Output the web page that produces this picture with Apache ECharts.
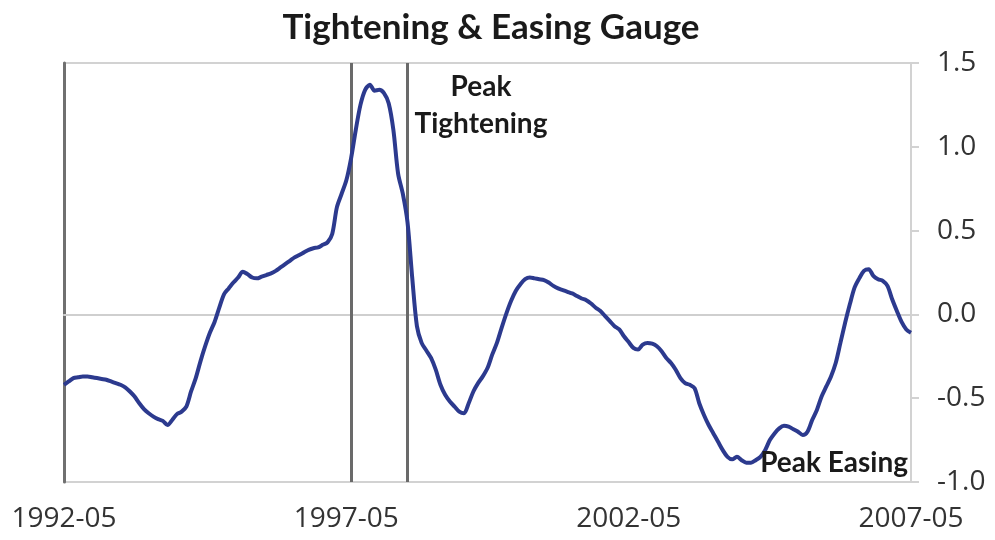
<!DOCTYPE html>
<html><head><meta charset="utf-8">
<script src="https://cdn.jsdelivr.net/npm/echarts@6/dist/echarts.min.js"></script>
<style>html,body{margin:0;padding:0;background:#fff}#c{width:995px;height:540px}</style>
</head><body><div id="c"></div>
<script>
// Monthly gauge values, each array runs May of the named year to April of the next
const gauge1992 = [-0.42,-0.40,-0.38,-0.375,-0.37,-0.37,-0.375,-0.38,-0.385,-0.39,-0.40,-0.41];
const gauge1993 = [-0.42,-0.435,-0.46,-0.49,-0.53,-0.565,-0.59,-0.61,-0.625,-0.635,-0.66,-0.63];
const gauge1994 = [-0.595,-0.58,-0.55,-0.46,-0.38,-0.28,-0.19,-0.11,-0.045,0.04,0.12,0.155];
const gauge1995 = [0.19,0.22,0.255,0.24,0.22,0.215,0.225,0.235,0.245,0.26,0.28,0.30];
const gauge1996 = [0.32,0.34,0.355,0.37,0.385,0.395,0.40,0.415,0.43,0.48,0.64,0.72];
const gauge1997 = [0.80,0.93,1.10,1.25,1.34,1.37,1.335,1.34,1.32,1.26,1.10,0.84];
const gauge1998 = [0.72,0.55,0.22,-0.07,-0.17,-0.215,-0.26,-0.33,-0.42,-0.48,-0.52,-0.55];
const gauge1999 = [-0.58,-0.59,-0.53,-0.46,-0.41,-0.37,-0.32,-0.24,-0.17,-0.08,0.005,0.08];
const gauge2000 = [0.14,0.18,0.21,0.22,0.215,0.21,0.205,0.19,0.17,0.155,0.145,0.135];
const gauge2001 = [0.125,0.11,0.095,0.085,0.065,0.04,0.02,-0.01,-0.04,-0.07,-0.09,-0.13];
const gauge2002 = [-0.165,-0.20,-0.21,-0.18,-0.17,-0.175,-0.19,-0.22,-0.26,-0.29,-0.33,-0.38];
const gauge2003 = [-0.41,-0.42,-0.44,-0.53,-0.60,-0.66,-0.71,-0.76,-0.81,-0.85,-0.865,-0.85];
const gauge2004 = [-0.87,-0.885,-0.885,-0.87,-0.85,-0.81,-0.75,-0.71,-0.68,-0.665,-0.67,-0.685];
const gauge2005 = [-0.70,-0.72,-0.70,-0.63,-0.57,-0.49,-0.43,-0.37,-0.29,-0.17,-0.05,0.06];
const gauge2006 = [0.16,0.215,0.26,0.27,0.23,0.21,0.20,0.17,0.09,0.02,-0.045,-0.09];
const gauge2007 = [-0.11];

const xTickLabels = ['1992-05','1997-05','2002-05','2007-05'];
const yTicks = [-1.0,-0.5,0.0,0.5,1.0,1.5];
const markerMonths = ['1997-06','1998-06'];
const titleText = 'Tightening & Easing Gauge';
const noteTightening = 'Peak\nTightening';
const noteEasing = 'Peak Easing';

const gaugeValues = [].concat(gauge1992,gauge1993,gauge1994,gauge1995,gauge1996,gauge1997,
  gauge1998,gauge1999,gauge2000,gauge2001,gauge2002,gauge2003,gauge2004,gauge2005,gauge2006,gauge2007);

// month categories 1992-05 .. 2007-05
const months = [];
for (let i = 0; i < gaugeValues.length; i++) {
  const t = 1992 * 12 + 4 + i;
  const y = Math.floor(t / 12), m = t % 12 + 1;
  months.push(y + '-' + (m < 10 ? '0' + m : m));
}

const chart = echarts.init(document.getElementById('c'), null, {renderer: 'canvas'});
chart.setOption({
  animation: false,
  backgroundColor: '#fff',
  title: {
    text: titleText, left: 486, textAlign: 'center', top: 5,
    textStyle: {fontFamily: 'Lato', fontWeight: 'bold', fontSize: 35, color: '#1a1a1a'}
  },
  grid: {left: 64, right: 84, top: 63, bottom: 58, show: true, borderColor: '#d2d2d2', borderWidth: 2},
  xAxis: {
    type: 'category', data: months, boundaryGap: false,
    axisLine: {show: true, lineStyle: {color: '#d2d2d2', width: 2}},
    axisTick: {show: false},
    splitLine: {show: false},
    axisLabel: {
      interval: (i, v) => xTickLabels.indexOf(v) >= 0,
      fontFamily: 'Open Sans', fontSize: 28, color: '#333', margin: 23,
      showMinLabel: true, showMaxLabel: true
    }
  },
  yAxis: [{
    type: 'value', position: 'right', min: yTicks[0], max: yTicks[yTicks.length-1], interval: 0.5,
    axisLine: {show: true, lineStyle: {color: '#d2d2d2', width: 2}},
    axisTick: {show: true, length: 8, lineStyle: {color: '#d2d2d2', width: 2}},
    splitLine: {show: false},
    axisLabel: {formatter: v => v.toFixed(1), fontFamily: 'Open Sans', fontSize: 28, color: '#333', margin: 26}
  }, {
    type: 'value', position: 'left', min: yTicks[0], max: yTicks[yTicks.length-1], interval: 0.5,
    axisLine: {show: true, lineStyle: {color: '#707070', width: 3}},
    axisTick: {show: false}, axisLabel: {show: false}, splitLine: {show: false}
  }],
  series: [{
    type: 'line', data: gaugeValues, yAxisIndex: 0, showSymbol: false, smooth: 0.3,
    lineStyle: {color: '#2c3a8e', width: 4},
    z: 5,
    markLine: {
      silent: true, symbol: ['none','none'], label: {show: false},
      data: [
        {yAxis: 0, lineStyle: {color: '#cfcfcf', width: 2, type: 'solid'}},
        {xAxis: markerMonths[0], lineStyle: {color: '#6a6a6a', width: 3, type: 'solid'}},
        {xAxis: markerMonths[1], lineStyle: {color: '#6a6a6a', width: 3, type: 'solid'}}
      ]
    }
  }],
  graphic: [
    {type: 'text', x: 481, y: 68, z: 10,
     style: {text: noteTightening, align: 'center', verticalAlign: 'top', fontFamily: 'Lato', fontWeight: 'bold', fontSize: 28, lineHeight: 37, fill: '#1a1a1a'}},
    {type: 'text', x: 908, y: 463, z: 10,
     style: {text: noteEasing, align: 'right', verticalAlign: 'middle', fontFamily: 'Lato', fontWeight: 'bold', fontSize: 28, fill: '#1a1a1a'}}
  ]
});
</script>
</body></html>
